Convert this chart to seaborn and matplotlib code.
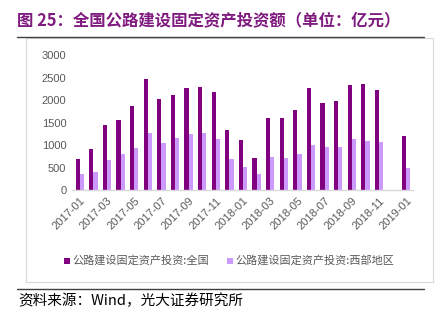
import matplotlib
matplotlib.use("Agg")
import matplotlib.pyplot as plt
import seaborn as sns
import pandas as pd
import numpy as np
from matplotlib.lines import Line2D
from matplotlib.patches import Rectangle

months = ["2017-01", "2017-02", "2017-03", "2017-04", "2017-05", "2017-06",
          "2017-07", "2017-08", "2017-09", "2017-10", "2017-11", "2017-12",
          "2018-01", "2018-02", "2018-03", "2018-04", "2018-05", "2018-06",
          "2018-07", "2018-08", "2018-09", "2018-10", "2018-11", "2018-12",
          "2019-01"]
national = [690, 913, 1455, 1567, 1871, 2480, 2020, 2109, 2280, 2287, 2180,
            1329, 1121, 705, 1597, 1611, 1782, 2265, 1931, 1975, 2332, 2354,
            2228, None, 1196]
western = [364, 408, 668, 809, 936, 1270, 1054, 1158, 1248, 1270, 1129,
           690, 520, 356, 728, 705, 795, 1010, 958, 958, 1136, 1092,
           1069, None, 490]
series_names = ["公路建设固定资产投资:全国", "公路建设固定资产投资:西部地区"]
colors = ["#800080", "#CC99FF"]
yticks = [0, 500, 1000, 1500, 2000, 2500, 3000]
xlabels = months[::2]

sns.set_style("white")
plt.rcParams['font.family'] = ['Liberation Sans', 'Noto Sans CJK SC', 'DejaVu Sans']

df = pd.DataFrame({
    "month": months * 2,
    "value": pd.to_numeric(pd.Series(national + western), errors="coerce"),
    "series": [series_names[0]] * len(months) + [series_names[1]] * len(months),
})

W, H = 443, 324
fig = plt.figure(figsize=(W / 100, H / 100), dpi=100)

ax = fig.add_axes([72 / W, (H - 190) / H, (413 - 72) / W, (190 - 55.3) / H])
sns.barplot(data=df, x="month", y="value", hue="series", order=months,
            hue_order=series_names, palette=colors, width=0.62,
            saturation=1, edgecolor="none", linewidth=0, ax=ax, legend=False)

ax.set_ylim(0, 3000)
ax.set_xlim(-0.57, 24.5)
ax.set_yticks(yticks)
ax.set_yticklabels([str(v) for v in yticks], color="#595959", fontsize=8)
ax.set_xticks(range(0, len(months), 2))
ax.set_xticklabels(xlabels, rotation=45, ha="right", rotation_mode="anchor",
                   color="#595959", fontsize=8)
ax.tick_params(axis="both", length=0, pad=4)
ax.set_xlabel("")
ax.set_ylabel("")
for s in ["top", "right", "left"]:
    ax.spines[s].set_visible(False)
ax.spines["bottom"].set_color("#D9D9D9")
ax.spines["bottom"].set_linewidth(1.0)
ax.set_xticks([i + 0.5 for i in range(0, len(months) - 1, 2)], minor=True)
ax.tick_params(axis="x", which="minor", direction="in", length=3, color="#D9D9D9")

# chart frame
fig.patches.append(Rectangle((25.5 / W, (H - 282) / H), (432.5 - 25.5) / W, (282 - 38) / H,
                             transform=fig.transFigure, fill=False,
                             edgecolor="#D9D9D9", linewidth=0.8))
# lines
fig.add_artist(Line2D([17 / W, 424 / W], [(H - 37) / H] * 2, color="#404040", linewidth=1.0))
fig.add_artist(Line2D([17 / W, 424 / W], [(H - 289) / H] * 2, color="#404040", linewidth=1.0))

fig.text(17 / W, (H - 20) / H, "图 25：全国公路建设固定资产投资额（单位：亿元）",
         color="#7F1A7F", fontsize=11.8, fontweight="bold", va="center", ha="left",
         family=['Noto Sans CJK SC', 'DejaVu Sans'])

# legend
legend_items = [(64 / W, series_names[0], colors[0]), (227 / W, series_names[1], colors[1])]
for x0, name, c in legend_items:
    fig.patches.append(Rectangle((x0, (H - 264) / H), 6 / W, 6 / H,
                                 transform=fig.transFigure, facecolor=c, edgecolor="none"))
    fig.text(x0 + 8 / W, (H - 260.7) / H, name, color="#595959", fontsize=8,
             va="center", ha="left", family=['Noto Sans CJK SC', 'DejaVu Sans'])

fig.text(18 / W, (H - 300.5) / H, "资料来源：Wind，光大证券研究所", color="#000000",
         fontsize=10.5, va="center", ha="left", family=['Noto Sans CJK SC', 'DejaVu Sans'])

fig.savefig("out.png", dpi=100)
